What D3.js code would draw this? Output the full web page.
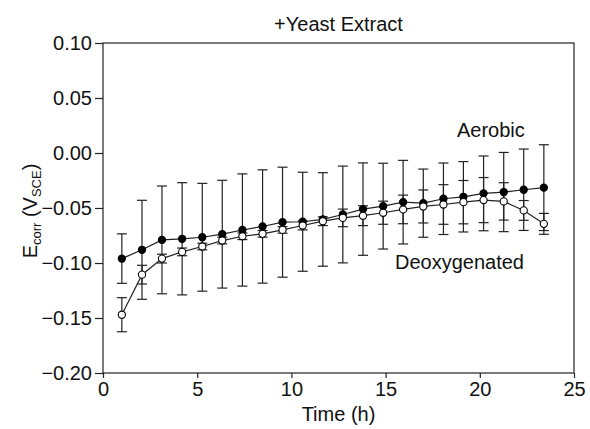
<!DOCTYPE html>
<html>
<head>
<meta charset="utf-8">
<script src="https://cdn.jsdelivr.net/npm/d3@7"></script>
<style>
  body { margin: 0; background: #fff; }
  svg { display: block; font-family: "Liberation Sans", Arial, sans-serif; }
</style>
</head>
<body>
<div id="chart"></div>
<script>
// time points (h)
const times = [1.0, 2.07, 3.13, 4.2, 5.27, 6.33, 7.4, 8.47, 9.53, 10.6, 11.67,
  12.73, 13.8, 14.87, 15.93, 17.0, 18.07, 19.13, 20.2, 21.27, 22.33, 23.4];

// Ecorr (V vs SCE)
const aerobic = [-0.096, -0.088, -0.079, -0.078, -0.0766, -0.0738, -0.070, -0.0668,
  -0.0629, -0.0625, -0.0604, -0.0559, -0.051, -0.0483, -0.0447, -0.0456, -0.0416,
  -0.0398, -0.0367, -0.0355, -0.0334, -0.0315];
const aerobicErr = [0.0225, 0.045, 0.049, 0.051, 0.049, 0.049, 0.051, 0.0515, 0.050,
  0.045, 0.0425, 0.044, 0.042, 0.039, 0.038, 0.031, 0.0325, 0.032, 0.034, 0.036,
  0.037, 0.039];

const deox = [-0.147, -0.1106, -0.096, -0.0899, -0.085, -0.0796, -0.0757, -0.0735,
  -0.0699, -0.0659, -0.062, -0.059, -0.057, -0.0543, -0.0513, -0.0486, -0.0468,
  -0.0447, -0.0428, -0.044, -0.0522, -0.0644];
const deoxErr = [0.0155, 0.0085, 0.004, 0.0035, 0.003, 0.003, 0.003, 0.003, 0.003,
  0.004, 0.004, 0.008, 0.009, 0.0105, 0.013, 0.015, 0.018, 0.0197, 0.0205, 0.017,
  0.009, 0.0095];

const xTicks = [0, 5, 10, 15, 20, 25];
const yTicks = [0.10, 0.05, 0.00, -0.05, -0.10, -0.15, -0.20];

const width = 590, height = 429;
const margin = { top: 43, right: 16, bottom: 56, left: 103 };

const svg = d3.select("#chart").append("svg")
  .attr("width", width)
  .attr("height", height);

const x = d3.scaleLinear().domain([0, 25]).range([margin.left, width - margin.right]);
const y = d3.scaleLinear().domain([-0.20, 0.10]).range([height - margin.bottom, margin.top]);

const ink = "#222";

// frame
svg.append("rect")
  .attr("x", x(0)).attr("y", y(0.10))
  .attr("width", x(25) - x(0)).attr("height", y(-0.20) - y(0.10))
  .attr("fill", "none").attr("stroke", ink).attr("stroke-width", 1.2);

const fmt = d => d < 0 ? "\u2212" + d3.format(".2f")(-d) : d3.format(".2f")(d);

const yAxis = svg.append("g")
  .attr("transform", `translate(${x(0)},0)`)
  .call(d3.axisLeft(y).tickValues(yTicks).tickSize(8).tickPadding(3).tickFormat(fmt));
yAxis.select(".domain").remove();
yAxis.selectAll("line").attr("stroke", ink).attr("stroke-width", 1.2);
yAxis.selectAll("text").attr("font-size", 20).attr("fill", "#111")
  .attr("font-family", "Liberation Sans, Arial, sans-serif");

const xAxis = svg.append("g")
  .attr("transform", `translate(0,${y(-0.20)})`)
  .call(d3.axisBottom(x).tickValues(xTicks).tickSize(5).tickPadding(4));
xAxis.select(".domain").remove();
xAxis.selectAll("line").attr("stroke", ink).attr("stroke-width", 1.2);
xAxis.selectAll("text").attr("font-size", 20).attr("fill", "#111")
  .attr("font-family", "Liberation Sans, Arial, sans-serif");

// labels
svg.append("text")
  .attr("x", (x(0) + x(25)) / 2).attr("y", 421)
  .attr("text-anchor", "middle").attr("font-size", 20).attr("fill", "#111")
  .text("Time (h)");

const yl = svg.append("text")
  .attr("transform", `translate(37,${(y(0.10) + y(-0.20)) / 2 + 3}) rotate(-90)`)
  .attr("text-anchor", "middle").attr("font-size", 20).attr("fill", "#111");
yl.append("tspan").text("E");
yl.append("tspan").attr("font-size", 13).attr("dy", 4).text("corr");
yl.append("tspan").attr("dy", -4).text(" (V");
yl.append("tspan").attr("font-size", 13).attr("dy", 4).text("SCE");
yl.append("tspan").attr("dy", -4).text(")");

svg.append("text")
  .attr("x", (x(0) + x(25)) / 2).attr("y", 31)
  .attr("text-anchor", "middle").attr("font-size", 20).attr("fill", "#111")
  .text("+Yeast Extract");

svg.append("text")
  .attr("x", 457).attr("y", 137)
  .attr("font-size", 20).attr("fill", "#111")
  .text("Aerobic");

svg.append("text")
  .attr("x", 395).attr("y", 269)
  .attr("font-size", 20).attr("fill", "#111")
  .text("Deoxygenated");

// series
const series = [
  { name: "aerobic", vals: aerobic, err: aerobicErr, fill: "#000" },
  { name: "deox", vals: deox, err: deoxErr, fill: "#fff" }
];

const capW = 5;
series.forEach(s => {
  const pts = times.map((t, i) => ({ t, v: s.vals[i], e: s.err[i] }));
  const g = svg.append("g").attr("class", "err-" + s.name)
    .attr("stroke", ink).attr("stroke-width", 1.2);
  g.selectAll("line.v").data(pts).enter().append("line")
    .attr("x1", d => x(d.t)).attr("x2", d => x(d.t))
    .attr("y1", d => y(d.v + d.e)).attr("y2", d => y(d.v - d.e));
  g.selectAll("line.top").data(pts).enter().append("line")
    .attr("x1", d => x(d.t) - capW).attr("x2", d => x(d.t) + capW)
    .attr("y1", d => y(d.v + d.e)).attr("y2", d => y(d.v + d.e));
  g.selectAll("line.bot").data(pts).enter().append("line")
    .attr("x1", d => x(d.t) - capW).attr("x2", d => x(d.t) + capW)
    .attr("y1", d => y(d.v - d.e)).attr("y2", d => y(d.v - d.e));
});

series.forEach(s => {
  const pts = times.map((t, i) => ({ t, v: s.vals[i] }));
  svg.append("path")
    .datum(pts)
    .attr("fill", "none").attr("stroke", ink).attr("stroke-width", 1.2)
    .attr("d", d3.line().x(d => x(d.t)).y(d => y(d.v)));
  svg.append("g").selectAll("circle").data(pts).enter().append("circle")
    .attr("cx", d => x(d.t)).attr("cy", d => y(d.v)).attr("r", 3.6)
    .attr("fill", s.fill).attr("stroke", "#000").attr("stroke-width", 1.1);
});
</script>
</body>
</html>
